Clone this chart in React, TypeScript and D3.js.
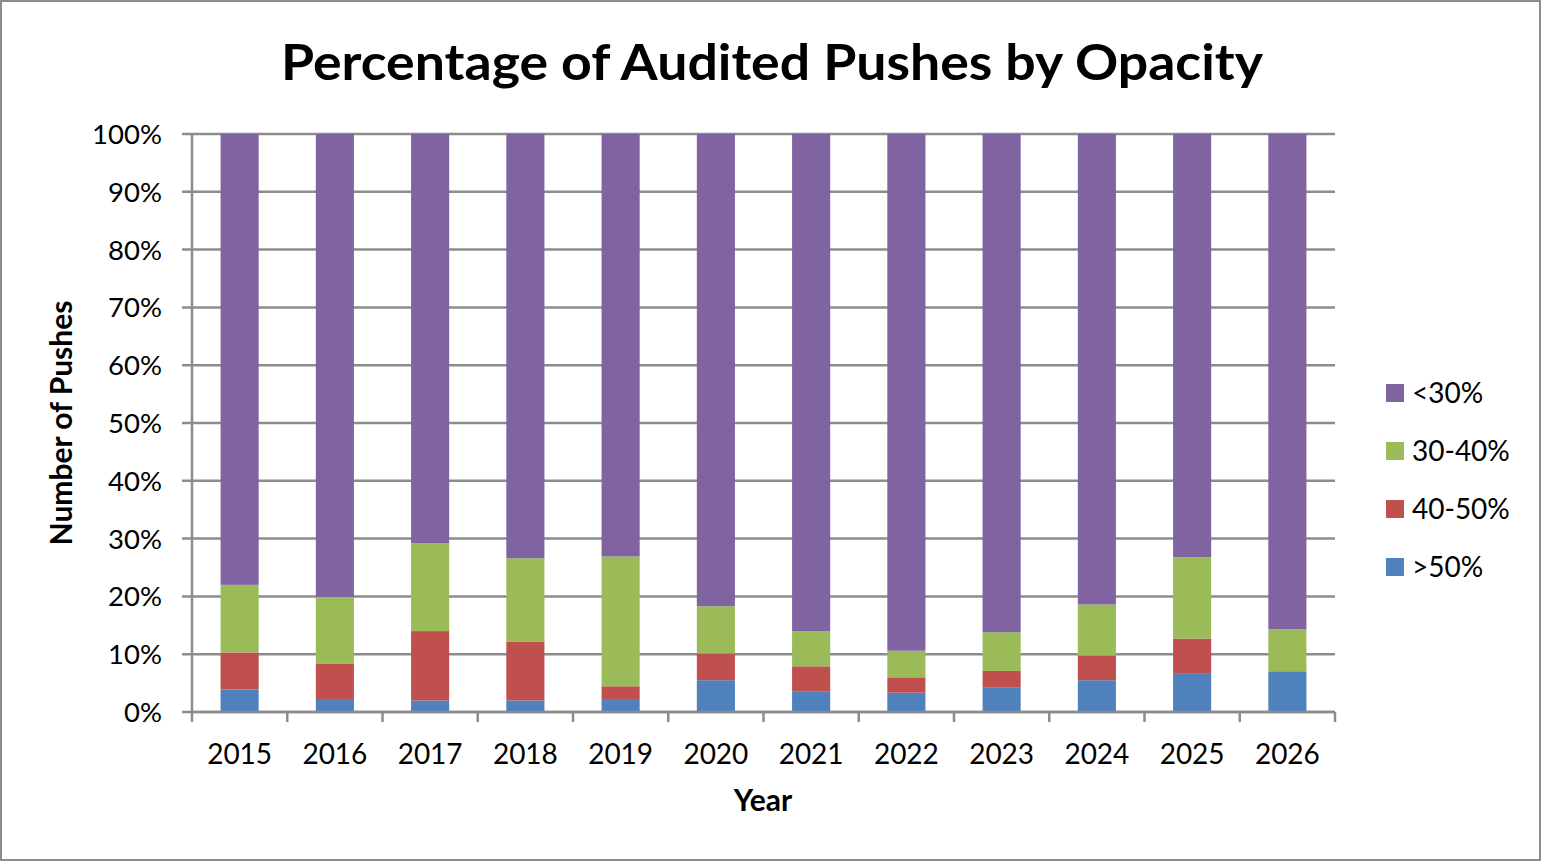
import React from 'react';
import * as d3 from 'd3';

const WIDTH = 1541;
const HEIGHT = 861;

const MARGIN = { top: 134, right: 206, bottom: 149, left: 192 };

const years = ['2015', '2016', '2017', '2018', '2019', '2020', '2021', '2022', '2023', '2024', '2025', '2026'];

// share of pushes per opacity band, in percent
const over50 = [3.9, 2.25, 2.0, 2.0, 2.25, 5.5, 3.6, 3.35, 4.2, 5.5, 6.6, 7.05];
const from40to50 = [6.4, 6.15, 12.0, 10.2, 2.2, 4.6, 4.3, 2.65, 2.9, 4.3, 6.1, 0];
const from30to40 = [11.7, 11.5, 15.2, 14.4, 22.45, 8.2, 6.1, 4.6, 6.7, 8.8, 14.1, 7.25];
const under30 = years.map((_, i) => 100 - over50[i] - from40to50[i] - from30to40[i]);

const seriesNames = ['>50%', '40-50%', '30-40%', '<30%'];
const seriesColors = ['#4F81BD', '#C0504D', '#9BBB59', '#8064A2'];
const yTicks = [0, 10, 20, 30, 40, 50, 60, 70, 80, 90, 100];

const FONT = 'Lato, "Open Sans", sans-serif';
const GRID = '#8c8c8c';

export default function App() {
  const x = d3.scaleBand()
    .domain(years)
    .range([MARGIN.left, WIDTH - MARGIN.right])
    .paddingInner(0.6)
    .paddingOuter(0.3);

  const y = d3.scaleLinear()
    .domain([0, 100])
    .range([HEIGHT - MARGIN.bottom, MARGIN.top]);

  const table = years.map((year, i) => ({
    year,
    '>50%': over50[i],
    '40-50%': from40to50[i],
    '30-40%': from30to40[i],
    '<30%': under30[i],
  }));

  const stacked = d3.stack<any>().keys(seriesNames)(table);

  const step = x.step();
  const x0 = MARGIN.left;
  const x1 = WIDTH - MARGIN.right;
  const yBase = y(0);

  return (
    <svg width={WIDTH} height={HEIGHT} viewBox={`0 0 ${WIDTH} ${HEIGHT}`}
      style={{ position: 'absolute', left: 0, top: 0, background: '#fff' }}>
      <rect x={1} y={1} width={WIDTH - 2} height={HEIGHT - 2} fill="#fff" stroke={GRID} strokeWidth={2} />

      <text x={772} y={80} textAnchor="middle" fontFamily={FONT} fontWeight="bold"
        fontSize={50} textLength={982} lengthAdjust="spacingAndGlyphs" fill="#000">
        Percentage of Audited Pushes by Opacity
      </text>

      {yTicks.map(t => (
        <g key={t}>
          <line x1={x0 - 10} x2={x1} y1={y(t)} y2={y(t)} stroke={GRID} strokeWidth={2.5} />
          <text x={162} y={y(t)} dy="0.36em" textAnchor="end" fontFamily={FONT} fontSize={27.5} fill="#000">
            {t}%
          </text>
        </g>
      ))}

      {stacked.map((layer, si) => (
        <g key={layer.key} fill={seriesColors[si]}>
          {layer.map(d => (
            <rect key={d.data.year}
              x={x(d.data.year)}
              y={y(d[1])}
              width={x.bandwidth()}
              height={Math.max(0, y(d[0]) - y(d[1]))} />
          ))}
        </g>
      ))}

      <line x1={x0} x2={x0} y1={MARGIN.top} y2={yBase} stroke={GRID} strokeWidth={2.5} />
      <line x1={x0} x2={x1} y1={yBase} y2={yBase} stroke={GRID} strokeWidth={2.5} />
      {d3.range(years.length + 1).map(i => (
        <line key={i} x1={x0 + i * step} x2={x0 + i * step} y1={yBase} y2={yBase + 10} stroke={GRID} strokeWidth={2.5} />
      ))}

      {years.map(year => (
        <text key={year} x={(x(year) as number) + x.bandwidth() / 2} y={764} textAnchor="middle"
          fontFamily={FONT} fontSize={28} fill="#000">
          {year}
        </text>
      ))}

      <text x={763} y={811} textAnchor="middle" fontFamily={FONT} fontWeight="bold" fontSize={30} fill="#000">
        Year
      </text>
      <text transform="translate(72, 423) rotate(-90)" textAnchor="middle" fontFamily={FONT}
        fontWeight="bold" fontSize={30} fill="#000">
        Number of Pushes
      </text>

      {seriesNames.slice().reverse().map((name, i) => {
        const idx = seriesNames.length - 1 - i;
        const cy = 393 + i * 58;
        return (
          <g key={name}>
            <rect x={1386} y={cy - 9} width={18} height={18} fill={seriesColors[idx]} />
            <text x={1412} y={cy} dy="0.36em" fontFamily={FONT} fontSize={28} fill="#000">{name}</text>
          </g>
        );
      })}
    </svg>
  );
}
